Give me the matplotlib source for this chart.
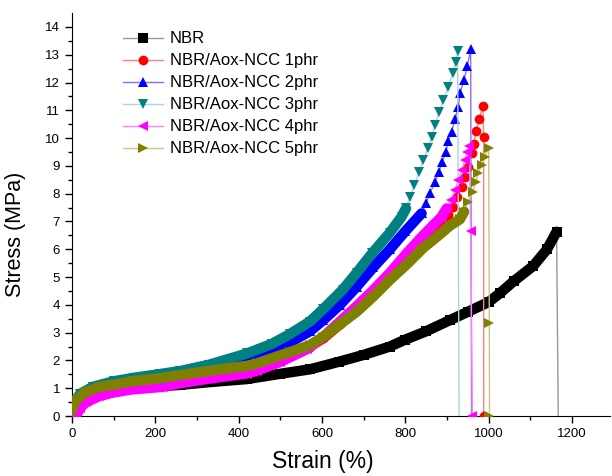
import numpy as np
import matplotlib.pyplot as plt

plt.rcParams['font.family'] = ['Liberation Sans', 'DejaVu Sans']

# strain (%) / stress (MPa)
nbr_x = [0, 10, 30, 60, 100, 150, 200, 259, 330, 420, 500, 571, 640, 700, 763, 800, 850,
         907, 950, 1000, 1027, 1060, 1107, 1140, 1163, 1167]
nbr_y = [0, 0.45, 0.75, 0.92, 1.0, 1.03, 1.06, 1.12, 1.22, 1.33, 1.52, 1.68, 1.95, 2.2, 2.5,
         2.75, 3.05, 3.45, 3.75, 4.1, 4.42, 4.85, 5.4, 6.0, 6.63, 0]

p1_x = [0, 10, 30, 60, 100, 150, 210, 260, 330, 420, 480, 523, 571, 603, 643, 683, 723, 763,
        803, 843, 883, 903, 915, 925, 935, 943, 951, 959, 965, 969.6, 977, 986, 988, 988]
p1_y = [0, 0.45, 0.8, 0.98, 1.1, 1.22, 1.32, 1.4, 1.55, 1.78, 2.02, 2.22, 2.5, 2.8, 3.3, 3.85,
        4.45, 5.05, 5.7, 6.35, 7.0, 7.23, 7.53, 7.89, 8.25, 8.61, 8.97, 9.45, 9.8, 10.25, 10.68,
        11.15, 10.05, 0]

p2_x = [0, 10, 30, 60, 100, 150, 210, 260, 330, 420, 480, 523, 571, 603, 643, 683, 723, 763,
        800, 839, 849.6, 859.2, 871.2, 880.8, 888.8, 897.6, 903.2, 911.2, 919.2, 927.2, 931.2,
        940.8, 948.8, 956.8, 959]
p2_y = [0, 0.5, 0.8, 1.0, 1.2, 1.33, 1.45, 1.55, 1.72, 2.02, 2.35, 2.65, 3.05, 3.45, 4.0, 4.65,
        5.35, 6.0, 6.65, 7.29, 7.65, 8.01, 8.43, 8.79, 9.15, 9.51, 9.9, 10.23, 10.67, 11.13,
        11.61, 12.09, 12.59, 13.19, 0]

p3_x = [0, 5, 20, 50, 100, 150, 211, 260, 330, 420, 480, 523, 571, 603, 650, 683, 720, 763,
        791, 801.6, 811.2, 821.6, 833.6, 843.2, 853.6, 863.2, 871.2, 881.6, 891.2, 903.2,
        913.6, 921.6, 925.6, 929]
p3_y = [0.3, 0.5, 0.8, 1.05, 1.25, 1.38, 1.51, 1.62, 1.85, 2.25, 2.6, 2.95, 3.4, 3.85, 4.55,
        5.15, 5.85, 6.6, 7.17, 7.47, 7.89, 8.31, 8.79, 9.21, 9.63, 10.05, 10.47, 10.95, 11.37,
        11.85, 12.33, 12.74, 13.14, 0]

p4_x = [10, 20, 34, 66, 100, 146, 218, 259, 331, 419, 443, 500, 563, 603, 643, 683, 723, 763,
        803, 843, 887.2, 899.2, 908.8, 919.2, 927.2, 935.2, 943.2, 948.8, 953.6, 956.8, 961]
p4_y = [0, 0.3, 0.5, 0.72, 0.85, 0.96, 1.05, 1.18, 1.35, 1.53, 1.63, 1.95, 2.4, 2.85, 3.4, 3.95,
        4.53, 5.15, 5.85, 6.5, 7.17, 7.47, 7.77, 8.13, 8.49, 8.85, 9.21, 9.51, 9.71, 6.65, 0]

p5_x = [0, 5, 10, 34, 66, 91, 146, 211, 259, 331, 419, 443, 523, 571, 603, 643, 683, 723, 763,
        803, 843, 880, 907, 931, 941, 951, 961.6, 969.6, 975, 983, 991, 1000, 1001.6, 1002]
p5_y = [0.2, 0.45, 0.58, 0.87, 1.05, 1.1, 1.25, 1.36, 1.47, 1.63, 1.8, 1.89, 2.3, 2.55, 2.85,
        3.3, 3.75, 4.3, 4.9, 5.45, 6.05, 6.5, 6.85, 7.08, 7.35, 7.71, 8.07, 8.43, 8.73, 9.03,
        9.33, 9.65, 3.33, 0]

# name, x, y, colour, marker, line colour, marker shown at the break (stress 0)
series = [
    ('NBR', nbr_x, nbr_y, 'black', 's', '#999999', False),
    ('NBR/Aox-NCC 1phr', p1_x, p1_y, '#ff0000', 'o', '#ff8080', True),
    ('NBR/Aox-NCC 2phr', p2_x, p2_y, '#0000ff', '^', '#8a6cff', False),
    ('NBR/Aox-NCC 3phr', p3_x, p3_y, '#008080', 'v', '#a6d8d8', False),
    ('NBR/Aox-NCC 4phr', p4_x, p4_y, '#ff00ff', '<', '#ff80ff', True),
    ('NBR/Aox-NCC 5phr', p5_x, p5_y, '#808000', '>', '#c8c880', True),
]

fig = plt.figure(figsize=(6.12, 4.76), dpi=100)
ax = fig.add_axes([0.1176, 0.126, 0.879, 0.8466])

for i, (name, xs, ys, col, mk, lcol, zero_mark) in enumerate(series):
    xs = np.array(xs)
    ys = np.array(ys)
    n = len(xs) if zero_mark else len(xs) - 1
    ax.plot(xs, ys, color=lcol, lw=1, marker=mk, ms=7, mfc=col, mec=col,
            mew=0, markevery=list(range(n)), label=name, zorder=2 + i)
    # thick band where the measured points sit on top of each other
    peak = int(np.argmax(ys))
    dense = ys[:peak + 1] <= 7.5
    ax.plot(xs[:peak + 1][dense], ys[:peak + 1][dense], color=col, lw=7.5,
            solid_capstyle='round', zorder=2.5 + i)

ax.set_xlim(0, 1291)
ax.set_ylim(0, 14.5)
ax.set_xticks(np.arange(0, 1201, 200))
ax.set_xticks(np.arange(100, 1300, 200), minor=True)
ax.set_yticks(np.arange(0, 15, 1))
ax.set_yticks(np.arange(0.5, 14.5, 1), minor=True)
ax.tick_params(which='major', direction='out', length=5, width=1, labelsize=9.5)
ax.tick_params(which='minor', direction='out', length=3, width=1)
for s in ['top', 'right']:
    ax.spines[s].set_visible(False)

ax.set_xlabel('Strain (%)', fontsize=16.5)
ax.set_ylabel('Stress (MPa)', fontsize=15.5)
ax.xaxis.set_label_coords(0.466, -0.085)
ax.yaxis.set_label_coords(-0.086, 0.45)

ax.legend(loc='upper left', bbox_to_anchor=(0.08, 0.975), frameon=False, fontsize=12,
          handlelength=2.4, handletextpad=0.4, labelspacing=0.42, borderpad=0)

fig.savefig('out.png', dpi=100)
